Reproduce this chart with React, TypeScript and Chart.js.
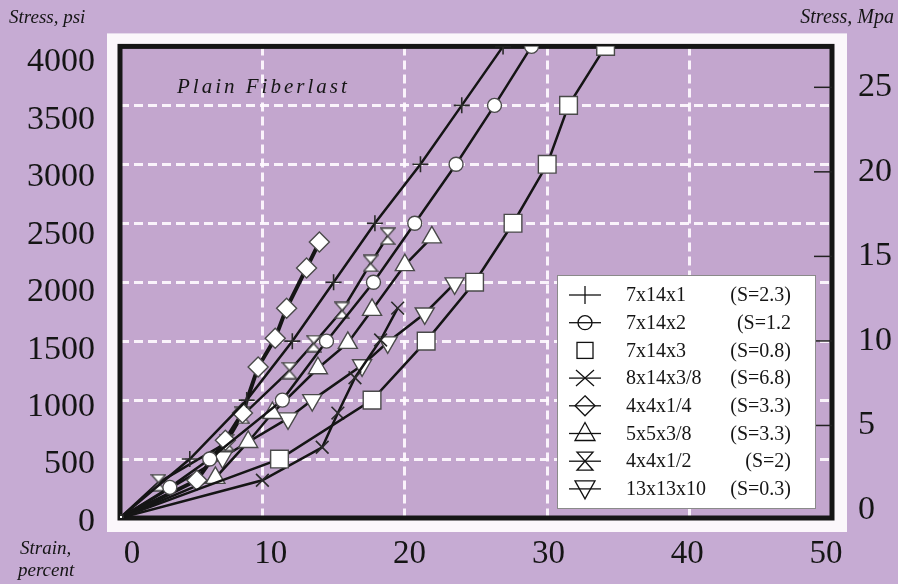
import React, { useEffect, useRef } from 'react';
import { Chart, registerables } from 'chart.js';

Chart.register(...registerables);

// ---------- data (strain in percent, stress in psi) ----------
const seriesNames = ['7x14x1', '7x14x2', '7x14x3', '8x14x3/8', '4x4x1/4', '5x5x3/8', '4x4x1/2', '13x13x10'];
const seriesStiffness = ['(S=2.3)', '(S=1.2', '(S=0.8)', '(S=6.8)', '(S=3.3)', '(S=3.3)', '(S=2)', '(S=0.3)'];

const strain7x14x1 = [0, 4.9, 8.9, 12.1, 15.0, 17.9, 21.1, 24.0, 26.9];
const stress7x14x1 = [0, 500, 1000, 1500, 2000, 2500, 3000, 3500, 4000];

const strain7x14x2 = [0, 3.5, 6.3, 11.4, 14.5, 17.8, 20.7, 23.6, 26.3, 28.9];
const stress7x14x2 = [0, 260, 500, 1000, 1500, 2000, 2500, 3000, 3500, 4000];

const strain7x14x3 = [0, 11.2, 17.7, 21.5, 24.9, 27.6, 30.0, 31.5, 34.1];
const stress7x14x3 = [0, 500, 1000, 1500, 2000, 2500, 3000, 3500, 4000];

const strain8x14x38 = [0, 10.0, 14.2, 15.3, 16.5, 18.3, 19.5];
const stress8x14x38 = [0, 320, 600, 890, 1190, 1510, 1780];

const strain4x4x14 = [0, 5.4, 7.4, 8.6, 9.7, 10.9, 11.7, 13.1, 14.0];
const stress4x4x14 = [0, 320, 660, 890, 1280, 1525, 1780, 2120, 2340];

const strain5x5x38 = [0, 6.7, 9.0, 10.7, 13.9, 16.0, 17.7, 20.0, 21.9];
const stress5x5x38 = [0, 340, 645, 890, 1270, 1485, 1765, 2145, 2380];

const strain4x4x12 = [0, 2.7, 7.5, 8.6, 11.9, 13.6, 15.6, 17.6, 18.8];
const stress4x4x12 = [0, 300, 640, 870, 1250, 1480, 1760, 2160, 2390];

const strain13x13x10 = [0, 7.2, 11.8, 13.5, 17.0, 18.8, 21.4, 23.5];
const stress13x13x10 = [0, 515, 845, 1000, 1295, 1490, 1735, 1990];

const strainTicks = [0, 10, 20, 30, 40, 50];
const psiTicks = [0, 500, 1000, 1500, 2000, 2500, 3000, 3500, 4000];
const mpaTicks = [0, 5, 10, 15, 20, 25];

const allStrain = [strain7x14x1, strain7x14x2, strain7x14x3, strain8x14x38, strain4x4x14, strain5x5x38, strain4x4x12, strain13x13x10];
const allStress = [stress7x14x1, stress7x14x2, stress7x14x3, stress8x14x38, stress4x4x14, stress5x5x38, stress4x4x12, stress13x13x10];

// ---------- styles ----------
const SERIF = '"Liberation Serif", "DejaVu Serif", serif';
const OUTER_BG = '#c6abd3';
const PLOT_BG = '#c3a6ce';
const GRID = 'rgba(255,250,255,0.92)';
const INK = '#151515';
const MARK_EDGE = '#4a4a4a';

const markerKinds = ['plus', 'circle', 'square', 'x', 'diamond', 'tri', 'hour', 'tridown'];

function makeHourglass(w: number, h: number) {
  const c = document.createElement('canvas');
  c.width = w;
  c.height = h;
  const g = c.getContext('2d')!;
  g.fillStyle = '#fff';
  g.strokeStyle = MARK_EDGE;
  g.lineWidth = 1.4;
  g.beginPath();
  g.moveTo(1, 1);
  g.lineTo(w - 1, 1);
  g.lineTo(1, h - 1);
  g.lineTo(w - 1, h - 1);
  g.closePath();
  g.fill();
  g.stroke();
  return c;
}

function drawLegendMarker(ctx: CanvasRenderingContext2D, kind: string, cx: number, cy: number) {
  ctx.save();
  ctx.strokeStyle = '#111';
  ctx.lineWidth = 1.3;
  const hline = () => {
    ctx.beginPath();
    ctx.moveTo(cx - 16, cy);
    ctx.lineTo(cx + 16, cy);
    ctx.stroke();
  };
  switch (kind) {
    case 'plus':
      hline();
      ctx.beginPath();
      ctx.moveTo(cx, cy - 9);
      ctx.lineTo(cx, cy + 9);
      ctx.stroke();
      break;
    case 'circle':
      hline();
      ctx.beginPath();
      ctx.arc(cx, cy, 7, 0, Math.PI * 2);
      ctx.stroke();
      break;
    case 'square':
      ctx.strokeRect(cx - 8, cy - 8, 16, 16);
      break;
    case 'x':
      hline();
      ctx.beginPath();
      ctx.moveTo(cx - 9, cy - 8);
      ctx.lineTo(cx + 9, cy + 8);
      ctx.moveTo(cx + 9, cy - 8);
      ctx.lineTo(cx - 9, cy + 8);
      ctx.stroke();
      break;
    case 'diamond':
      hline();
      ctx.beginPath();
      ctx.moveTo(cx, cy - 10);
      ctx.lineTo(cx + 10, cy);
      ctx.lineTo(cx, cy + 10);
      ctx.lineTo(cx - 10, cy);
      ctx.closePath();
      ctx.stroke();
      break;
    case 'tri':
      hline();
      ctx.beginPath();
      ctx.moveTo(cx, cy - 11);
      ctx.lineTo(cx + 10, cy + 7);
      ctx.lineTo(cx - 10, cy + 7);
      ctx.closePath();
      ctx.stroke();
      break;
    case 'hour':
      hline();
      ctx.beginPath();
      ctx.moveTo(cx - 8, cy - 9);
      ctx.lineTo(cx + 8, cy - 9);
      ctx.lineTo(cx - 8, cy + 9);
      ctx.lineTo(cx + 8, cy + 9);
      ctx.closePath();
      ctx.stroke();
      break;
    case 'tridown':
      hline();
      ctx.beginPath();
      ctx.moveTo(cx - 10, cy - 8);
      ctx.lineTo(cx + 10, cy - 8);
      ctx.lineTo(cx, cy + 10);
      ctx.closePath();
      ctx.stroke();
      break;
  }
  ctx.restore();
}

const decorPlugin = {
  id: 'decor',
  beforeDraw(chart: any) {
    const { ctx, chartArea: a } = chart;
    ctx.save();
    ctx.fillStyle = OUTER_BG;
    ctx.fillRect(0, 0, chart.width, chart.height);
    ctx.fillStyle = '#fbf7fb';
    ctx.fillRect(a.left - 13, a.top - 13, a.right - a.left + 28, a.bottom - a.top + 27);
    ctx.fillStyle = PLOT_BG;
    ctx.fillRect(a.left, a.top, a.right - a.left, a.bottom - a.top);
    ctx.restore();
  },
  beforeDatasetsDraw(chart: any) {
    const { ctx, chartArea: a } = chart;
    ctx.save();
    ctx.strokeStyle = '#161616';
    ctx.lineWidth = 5;
    ctx.strokeRect(a.left, a.top, a.right - a.left, a.bottom - a.top);
    // inward tick marks for the MPa axis
    const yR = chart.scales.yR;
    ctx.lineWidth = 1.5;
    ctx.strokeStyle = '#222';
    mpaTicks.forEach((v) => {
      if (v === 0) return;
      const y = yR.getPixelForValue(v);
      ctx.beginPath();
      ctx.moveTo(a.right - 18, y);
      ctx.lineTo(a.right, y);
      ctx.stroke();
    });
    ctx.restore();
  },
  afterDraw(chart: any) {
    const { ctx } = chart;
    ctx.save();
    ctx.fillStyle = INK;
    ctx.textBaseline = 'alphabetic';
    ctx.font = `italic 19px ${SERIF}`;
    ctx.textAlign = 'left';
    ctx.fillText('Stress, psi', 9, 23);
    ctx.font = `italic 20px ${SERIF}`;
    ctx.textAlign = 'right';
    ctx.fillText('Stress, Mpa', 894, 23);
    ctx.font = `italic 19px ${SERIF}`;
    ctx.textAlign = 'left';
    ctx.fillText('Strain,', 20, 554);
    ctx.fillText('percent', 18, 576);

    ctx.font = `italic 21px ${SERIF}`;
    (ctx as any).letterSpacing = '3px';
    ctx.fillText('Plain Fiberlast', 177, 93);
    (ctx as any).letterSpacing = '0px';

    // legend
    const bx = 557, by = 275, bw = 258, bh = 233;
    ctx.fillStyle = '#ffffff';
    ctx.fillRect(bx, by, bw, bh);
    ctx.strokeStyle = '#8a8a8a';
    ctx.lineWidth = 1;
    ctx.strokeRect(bx + 0.5, by + 0.5, bw, bh);
    ctx.font = `20px ${SERIF}`;
    ctx.textBaseline = 'middle';
    seriesNames.forEach((name, i) => {
      const cy = 295 + i * 27.7;
      drawLegendMarker(ctx, markerKinds[i], 585, cy);
      ctx.fillStyle = INK;
      ctx.textAlign = 'left';
      ctx.fillText(name, 626, cy + 1);
      ctx.textAlign = 'right';
      ctx.fillText(seriesStiffness[i], 791, cy + 1);
    });
    ctx.restore();
  },
};

export default function App() {
  const ref = useRef<HTMLCanvasElement>(null);

  useEffect(() => {
    const canvas = ref.current!;
    const hourglass = makeHourglass(16, 18);

    const styleFor = (kind: string) => {
      switch (kind) {
        case 'plus': return { pointStyle: 'cross', r: 8, rot: 0 };
        case 'circle': return { pointStyle: 'circle', r: 7, rot: 0 };
        case 'square': return { pointStyle: 'rect', r: 12.5, rot: 0 };
        case 'x': return { pointStyle: 'crossRot', r: 9, rot: 0 };
        case 'diamond': return { pointStyle: 'rectRot', r: 10, rot: 0 };
        case 'tri': return { pointStyle: 'triangle', r: 11, rot: 0 };
        case 'hour': return { pointStyle: hourglass as any, r: 9, rot: 0 };
        default: return { pointStyle: 'triangle', r: 11, rot: 180 };
      }
    };

    const datasets = seriesNames.map((name, i) => {
      const st = styleFor(markerKinds[i]);
      const isLineMarker = markerKinds[i] === 'plus' || markerKinds[i] === 'x';
      return {
        label: name,
        data: allStrain[i].map((x, k) => ({ x, y: allStress[i][k] })),
        borderColor: INK,
        borderWidth: markerKinds[i] === 'diamond' ? 4 : 2.5,
        tension: 0,
        fill: false,
        pointStyle: (c: any) => (c.dataIndex === 0 ? 'rect' : st.pointStyle),
        pointRadius: (c: any) => (c.dataIndex === 0 ? 4 : st.r),
        pointRotation: st.rot,
        pointBackgroundColor: '#ffffff',
        pointBorderColor: isLineMarker ? '#2a2a2a' : MARK_EDGE,
        pointBorderWidth: isLineMarker ? 1.6 : 1.4,
        xAxisID: 'x',
        yAxisID: 'y',
      };
    });

    const tickFont = { family: SERIF, size: 34 };
    const plain = (v: any) => String(v);

    const chart = new Chart(canvas, {
      type: 'line',
      data: { datasets: datasets as any },
      plugins: [decorPlugin as any],
      options: {
        responsive: false,
        maintainAspectRatio: false,
        animation: false,
        devicePixelRatio: 1,
        layout: { padding: { top: 46, left: 0, right: 0, bottom: 0 } },
        plugins: { legend: { display: false }, tooltip: { enabled: false } },
        scales: {
          x: {
            type: 'linear',
            position: 'bottom',
            min: strainTicks[0],
            max: strainTicks[strainTicks.length - 1],
            ticks: { display: false, stepSize: 10 },
            grid: {
              color: (c: any) => (c.tick && c.tick.value > 0 && c.tick.value < 50 ? GRID : 'rgba(0,0,0,0)'),
              lineWidth: 3,
              drawTicks: false,
            },
            border: { display: false, dash: [9, 5] },
            afterFit: (s: any) => { s.height = 0; },
          },
          xL: {
            type: 'linear',
            position: 'bottom',
            min: -0.865,
            max: 50.43,
            afterBuildTicks: (s: any) => { s.ticks = strainTicks.map((v) => ({ value: v })); },
            ticks: { font: { family: SERIF, size: 33 }, color: INK, padding: 17, callback: plain },
            grid: { display: false, drawTicks: false },
            border: { display: false },
            afterFit: (s: any) => { s.height = 66; },
          },
          y: {
            type: 'linear',
            position: 'left',
            min: psiTicks[0],
            max: psiTicks[psiTicks.length - 1],
            ticks: { display: false, stepSize: 500 },
            grid: {
              color: (c: any) => (c.tick && c.tick.value > 0 && c.tick.value < 4000 ? GRID : 'rgba(0,0,0,0)'),
              lineWidth: 3,
              drawTicks: false,
            },
            border: { display: false, dash: [9, 5] },
            afterFit: (s: any) => { s.width = 0; },
          },
          yL: {
            type: 'linear',
            position: 'left',
            min: 34.8,
            max: 4139.1,
            afterBuildTicks: (s: any) => { s.ticks = psiTicks.map((v) => ({ value: v })); },
            ticks: { font: tickFont, color: INK, padding: 25, callback: plain },
            grid: { display: false, drawTicks: false },
            border: { display: false },
            afterFit: (s: any) => { s.width = 120; },
          },
          yR: {
            type: 'linear',
            position: 'right',
            min: -0.473,
            max: 27.42,
            afterBuildTicks: (s: any) => { s.ticks = mpaTicks.map((v) => ({ value: v })); },
            ticks: { font: tickFont, color: INK, padding: 26, callback: plain },
            grid: { display: false, drawTicks: false },
            border: { display: false },
            afterFit: (s: any) => { s.width = 66; },
          },
        },
      } as any,
    });

    return () => chart.destroy();
  }, []);

  return (
    <div style={{ position: 'fixed', left: 0, top: 0, width: 898, height: 584, background: OUTER_BG }}>
      <canvas ref={ref} width={898} height={584} style={{ display: 'block', width: 898, height: 584 }} />
    </div>
  );
}
